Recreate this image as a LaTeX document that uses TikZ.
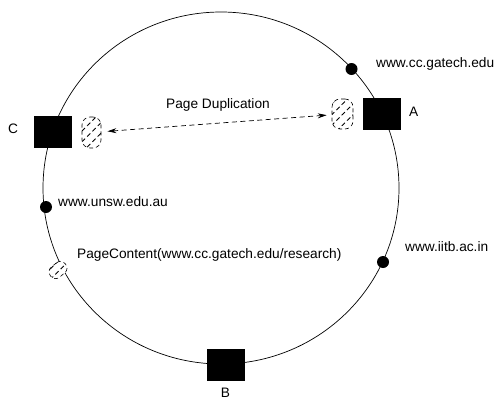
\documentclass[tikz,border=0pt]{standalone}
\usepackage{fontspec}
\setmainfont{Liberation Sans}
\usetikzlibrary{patterns.meta,arrows.meta,shapes.geometric}
\begin{document}
\begin{tikzpicture}[x=1pt,y=-1pt,
  lbl/.style={inner sep=0pt,font=\fontsize{13.7}{15}\selectfont,text height=9.9pt,text depth=2.9pt},
  server/.style={draw=black,fill=black,minimum width=37pt,minimum height=31pt,inner sep=0pt},
  host/.style={circle,fill=black,minimum size=12pt,inner sep=0pt},
  copybox/.style={rectangle,rounded corners=8pt,preaction={fill=white},draw=black,dash pattern=on 4pt off 3pt,line width=0.6pt,
     pattern={Lines[angle=45,distance=7.5pt,line width=0.9pt]},inner sep=0pt},
  ring/.style={line width=0.7pt}]
\useasboundingbox (0,0) rectangle (494,404);
\draw[ring] (221,188) ellipse [x radius=178, y radius=176];
% copy ellipses
\node[copybox,minimum width=19pt,minimum height=31pt] (cc) at (91.5,132.5) {};
\node[copybox,minimum width=21pt,minimum height=30pt] (ca) at (342.5,114) {};
\node[copybox,rounded corners=6pt,minimum width=19pt,minimum height=13pt,rotate=40] (pc) at (58,270) {};
% servers
\node[server] (A) at (381.5,113.5) {};
\node[server] (B) at (225.5,365) {};
\node[server] (C) at (52.5,132) {};
% hosts
\node[host] (h1) at (351.5,69) {};
\node[host] (h2) at (46,207) {};
\node[host] (h3) at (383,262) {};
% labels
\node[lbl,anchor=west] (tA) at (409,113) {A};
\node[lbl,anchor=center] (tB) at (225.5,394) {B};
\node[lbl,anchor=center] (tC) at (13,130) {C};
\node[lbl,anchor=west] (t1) at (376,64) {www.cc.gatech.edu};
\node[lbl,anchor=west] (t2) at (58,203) {www.unsw.edu.au};
\node[lbl,anchor=west] (t3) at (405,248) {www.iitb.ac.in};
\node[lbl,anchor=west] (t4) at (77,255) {PageContent(www.cc.gatech.edu/research)};
\node[lbl,anchor=center] (t5) at (218,105) {Page Duplication};
% duplication arrow
\draw[dash pattern=on 5pt off 3.5pt,line width=0.7pt,{Stealth[length=9pt,width=5pt]}-{Stealth[length=9pt,width=5pt]},shorten <=6pt,shorten >=5pt] (cc) -- (ca);
\end{tikzpicture}
\end{document}
